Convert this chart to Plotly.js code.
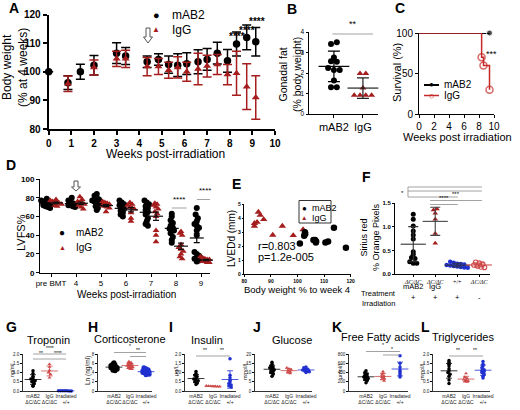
<!DOCTYPE html>
<html>
<head>
<meta charset="utf-8">
<script src="https://cdn.plot.ly/plotly-3.0.1.min.js"></script>
<style>
  body { margin: 0; background: #fff; }
  #fig { width: 520px; height: 410px; }
</style>
</head>
<body>
<div id="fig"></div>
<script>
// A - body weight (% of week 4), mean +/- SD
const weeksA   = [0, 0.85, 1.4, 2, 3, 3.4, 4.35, 4.85, 5.3, 5.7, 6.1, 6.6, 7.0, 7.45, 7.9, 8.3, 8.75, 9.15];
const bwMab    = [100, 96.2, 100, 102.3, 106.5, 105.5, 103.5, 104.3, 102.5, 102.3, 102.8, 103.5, 104.3, 106.5, 103.8, 109.7, 112, 110.5];
const bwMabErr = [0, 2.4, 2.6, 3.4, 3.6, 3, 2, 2, 3, 4, 3.8, 4.2, 3.8, 3.8, 4, 4.2, 4.3, 5];
const bwIgg    = [null, 95.8, null, 101.5, 104.5, 104.5, 101.8, 101.8, 100.5, 101.5, 100, 101, 102, 102.5, 99, 99.5, 94.8, 91];
const bwIggErr = [0, 2.7, 0, 2.6, 2.7, 3, 3.2, 2.8, 2.8, 3.7, 3.3, 5.5, 3.8, 3.5, 3.5, 7.7, 8, 7.6];

// B - gonadal fat
const fatMab = [3.41, 3.5, 2.76, 2.57, 2.55, 2.24, 2.15, 2.15, 1.63, 1.30, 1.30];
const fatIgg = [1.97, 1.97, 1.27, 0.91, 0.91, 0.91, 0.91];

// C - survival
const survWeeks = [0, 8.35, 8.6, 9.4];
const survMab = [100, 100, 100, 100];
const survIgg = [100, 70, 60, 30];

// D - LVFS% per time point
const weeksD = ['pre BMT', '4', '5', '6', '7', '8', '9'];
const lvfsMab = [
  [79, 77, 76, 75, 74, 73, 73, 72, 71, 70, 69],
  [80, 77, 75, 74, 73, 72, 72, 71, 70],
  [84, 82, 80, 78, 77, 76, 75, 74, 73, 71, 69, 67],
  [77, 75, 73, 72, 70, 68, 66, 64, 62, 60],
  [77, 75, 73, 71, 69, 67, 65, 62, 58, 55, 52, 50],
  [63, 60, 56, 53, 50, 48, 47, 46, 45, 42, 38, 35, 32],
  [69, 62, 58, 55, 52, 50, 48, 45, 40, 22, 20, 18, 15, 14, 13, 12]
];
const lvfsIgg = [
  [78, 77, 76, 75, 75, 74, 73, 72, 71],
  [81, 78, 76, 75, 74, 73, 72, 70, 68],
  [76, 75, 74, 73, 72, 71, 70, 69, 65],
  [75, 73, 72, 70, 69, 68, 64, 58, 55],
  [74, 73, 72, 70, 68, 65, 63, 60, 45, 40, 33],
  [44, 42, 40, 30, 27, 25, 23, 20, 17, 15],
  [17, 16, 15, 14, 14, 13, 12, 12, 11, 11]
];

// E - LVEDd vs body weight
const eMabX = [100.9, 102.5, 102.8, 102.9, 106.0, 106.6, 107.0, 106.9, 110.5, 111.5, 113.7, 118.2];
const eMabY = [2.2, 2.75, 3.0, 2.88, 2.45, 2.45, 2.35, 2.28, 2.28, 2.35, 3.32, 1.9];
const eIggX = [83.8, 83.8, 84.8, 85.3, 86.0, 87.3, 90.7, 94.3, 98.4, 102.1];
const eIggY = [3.64, 3.45, 3.72, 4.45, 4.22, 3.92, 2.8, 3.45, 2.78, 3.2];

// F - Sirius red
const fibTicks = ['<i>ΔC/ΔC</i>', '<i>ΔC/ΔC</i>', '+/+', '<i>ΔC/ΔC</i>'];
const fibTreatment = ['mAB2', 'IgG', '', ''];
const fibIrradiation = ['+', '+', '+', '-'];
const fibMab = [1.27, 1.16, 1.02, 0.91, 0.83, 0.74, 0.47, 0.42, 0.35, 0.33, 0.26, 0.23, 0.23];
const fibIgg = [1.36, 1.38, 1.29, 1.16, 0.86, 0.65];
const fibWt = [0.26, 0.24, 0.22, 0.21, 0.2, 0.19, 0.18, 0.17, 0.16, 0.15, 0.14, 0.13];
const fibNoIrr = [0.25, 0.23, 0.21, 0.19, 0.17, 0.15, 0.14];

// G-L - serum markers
const groupTicks = ['mAB2<br>ΔC/ΔC', 'IgG<br>ΔC/ΔC', 'Irradiated<br>+/+'];
const tropMab = [1.1, 0.95, 0.8, 0.72, 0.65, 0.6, 0.55, 0.5, 0.42, 0.3, 0.25];
const tropIgg = [1.45, 1.3, 1.12, 1.0, 0.9, 0.72];
const tropIrr = [0.02, 0.02, 0.01, 0.01, 0.01, 0, 0, 0];
const cortMab = [6.1, 5.9, 5.7, 5.5, 5.3, 5.2, 5.1, 5.0, 4.9, 4.8, 4.7, 4.5, 4.4];
const cortIgg = [6.2, 6.0, 5.8, 5.6, 5.5, 5.4, 5.2, 5.0, 4.8];
const cortIrr = [5.0, 4.8, 4.6, 4.4, 4.3, 4.2, 4.1, 4.0, 3.9, 3.8, 3.6, 3.5];
const insMab = [1.05, 0.95, 0.85, 0.78, 0.7, 0.65, 0.6, 0.55, 0.5, 0.42, 0.35];
const insIgg = [0.28, 0.27, 0.26, 0.25, 0.25, 0.24, 0.23];
const insIrr = [1.75, 0.85, 0.72, 0.58, 0.48, 0.4, 0.32, 0.28, 0.22];
const glucMab = [15.5, 14.5, 13.5, 13, 12.5, 12, 11.5, 11, 10.5, 10, 9, 8];
const glucIgg = [12.5, 12, 11.5, 11, 10.5, 10, 9.5];
const glucIrr = [13, 12.5, 12, 11.5, 11.3, 11, 10.7, 10.4, 10];
const ffaMab = [440, 400, 370, 340, 320, 300, 290, 270, 250, 220, 180];
const ffaIgg = [420, 380, 350, 320, 300, 280, 250, 220];
const ffaIrr = [760, 600, 520, 460, 420, 390, 350, 300];
const trigMab = [1.65, 1.55, 1.45, 1.35, 1.2, 1.1, 1.0, 0.9, 0.8, 0.6, 0.4];
const trigIgg = [0.95, 0.75, 0.68, 0.62, 0.58, 0.55, 0.52, 0.5];
const trigIrr = [1.6, 1.45, 1.35, 1.25, 1.15, 1.1, 1.05, 1.0, 0.9, 0.8, 0.7];

// ---------------------------------------------------------------
const W = 520, H = 410;
const FONT = '"Liberation Sans", Arial, sans-serif';
const RED = '#a51d1d', BLUE = '#2130d0', LRED = '#cf4a4a';
const X = v => v / W, Y = v => 1 - v / H;
const dom = (a, b) => [X(a), X(b)];
const domY = (top, bot) => [Y(bot), Y(top)];
const ref = n => n === 1 ? ['x', 'y'] : ['x' + n, 'y' + n];

const mean = a => a.reduce((s, v) => s + v, 0) / a.length;
const sd = a => { const m = mean(a); return Math.sqrt(a.reduce((s, v) => s + (v - m) ** 2, 0) / (a.length - 1)); };

// spread points that share a value bin side by side
function swarm(vals, xc, bin, step) {
  const count = {}, seen = {};
  vals.forEach(v => { const k = Math.round(v / bin); count[k] = (count[k] || 0) + 1; });
  return vals.map(v => {
    const k = Math.round(v / bin);
    seen[k] = seen[k] === undefined ? 0 : seen[k] + 1;
    return xc + (seen[k] - (count[k] - 1) / 2) * step;
  });
}

const traces = [], shapes = [], annotations = [];

function note(text, x, y, size, extra) {
  annotations.push(Object.assign({text, x: X(x), y: Y(y), xref: 'paper', yref: 'paper', showarrow: false,
    xanchor: 'center', yanchor: 'middle', font: {size, family: FONT, color: '#000'}}, extra));
}

function sig(n, x0, x1, yLine, label, size) {
  const xa = ref(n)[0];
  shapes.push({type: 'line', xref: xa, yref: 'paper', x0, x1, y0: Y(yLine), y1: Y(yLine), line: {color: '#8a8a8a', width: 0.8}});
  if (label) annotations.push({text: label, xref: xa, yref: 'paper', x: (x0 + x1) / 2, y: Y(yLine - size * 0.3), yanchor: 'bottom',
    showarrow: false, font: {size, family: FONT, color: '#000'}});
}

function dots(n, vals, xc, o) {
  const [xa, ya] = ref(n);
  traces.push({type: 'scatter', mode: 'markers', xaxis: xa, yaxis: ya, cliponaxis: false, hoverinfo: 'skip',
    x: swarm(vals, xc, o.bin, o.step), y: vals,
    marker: {symbol: o.sym, size: o.size, color: o.color, line: {color: o.color, width: o.sym.indexOf('open') >= 0 ? 1.1 : 0}}});
  const err = o.sem ? sd(vals) / Math.sqrt(vals.length) : sd(vals);
  traces.push({type: 'scatter', mode: 'markers', xaxis: xa, yaxis: ya, cliponaxis: false, hoverinfo: 'skip',
    x: [xc], y: [mean(vals)],
    marker: {symbol: 'line-ew', size: o.barW, color: o.barColor, line: {color: o.barColor, width: o.barLw}},
    error_y: {type: 'data', array: [err], color: o.barColor, thickness: o.barLw, width: o.cap}});
}

function arrow(cx, top, bot) {
  const sw = 2, hw = 4.5, neck = bot - (bot - top) * 0.4;
  const P = (x, y) => X(x).toFixed(4) + ',' + Y(y).toFixed(4);
  shapes.push({type: 'path', xref: 'paper', yref: 'paper', fillcolor: '#fff', line: {color: '#555', width: 1},
    path: `M${P(cx - sw, top)} L${P(cx + sw, top)} L${P(cx + sw, neck)} L${P(cx + hw, neck)} L${P(cx, bot)} L${P(cx - hw, neck)} L${P(cx - sw, neck)} Z`});
}

const layout = {
  width: W, height: H, margin: {l: 0, r: 0, t: 0, b: 0, pad: 0, autoexpand: false}, showlegend: false,
  paper_bgcolor: '#fff', plot_bgcolor: 'rgba(0,0,0,0)', font: {family: FONT, color: '#000'},
  shapes, annotations
};

function base(extra) {
  return Object.assign({showgrid: false, zeroline: false, showline: true, linecolor: '#000', linewidth: 1,
    ticks: 'outside', ticklen: 3, tickwidth: 1, tickcolor: '#000', fixedrange: true, automargin: false, tickangle: 0,
    tickfont: {size: 7, family: FONT, color: '#000'}}, extra);
}
function panel(n, xa, ya) {
  const k = n === 1 ? '' : n;
  layout['xaxis' + k] = base(Object.assign({anchor: 'y' + k}, xa));
  layout['yaxis' + k] = base(Object.assign({anchor: 'x' + k}, ya));
}

// ---------------- A
panel(1,
  {domain: dom(48.7, 275), range: [0, 10], tickvals: [0, 1, 2, 3, 4, 5, 6, 7, 8, 9, 10], linewidth: 2, tickwidth: 2, ticklen: 4,
   tickfont: {size: 10, weight: 'bold'}},
  {domain: domY(14.5, 129), range: [80, 120], tickvals: [80, 90, 100, 110, 120], linewidth: 2, tickwidth: 2, ticklen: 4,
   tickfont: {size: 10, weight: 'bold'}});
traces.push({type: 'scatter', mode: 'markers', x: weeksA, y: bwMab, cliponaxis: false, hoverinfo: 'skip',
  marker: {symbol: 'circle', size: 7.5, color: '#000'},
  error_y: {type: 'data', array: bwMabErr, color: '#000', thickness: 1.5, width: 4.5}});
traces.push({type: 'scatter', mode: 'markers', x: weeksA, y: bwIgg, cliponaxis: false, hoverinfo: 'skip',
  marker: {symbol: 'triangle-up', size: 7, color: RED},
  error_y: {type: 'data', array: bwIggErr, color: RED, thickness: 1.5, width: 4.5}});
[[8.3, 29], [8.75, 23], [9.2, 14]].forEach(([x, y]) =>
  annotations.push({text: '****', xref: 'x', yref: 'paper', x, y: Y(y), showarrow: false, font: {size: 10, weight: 'bold', family: FONT}}));
arrow(148, 28, 43);
note('●', 156, 15, 11);
note('mAB2', 170, 15, 12, {xanchor: 'left'});
note('▲', 156, 30, 8, {font: {size: 8, color: RED, family: FONT}});
note('IgG', 170, 30, 12, {xanchor: 'left'});
note('Body weight<br>(% at 4 weeks)', 15, 68, 12, {textangle: -90});
note('Weeks post-irradiation', 165, 154, 12);

// ---------------- B
panel(2,
  {domain: dom(309, 378), range: [-0.86, 1.52], tickvals: [0, 1], ticktext: ['mAB2', 'IgG'], tickfont: {size: 11}},
  {domain: domY(32, 114), range: [0, 4], tickvals: [0, 1, 2, 3, 4], tickfont: {size: 6.5}, ticklen: 2.5});
dots(2, fatMab, 0, {bin: 0.25, step: 0.2, sym: 'circle', size: 6, color: '#000', barW: 22, barColor: '#000', barLw: 1.2, cap: 6});
dots(2, fatIgg, 1, {bin: 0.25, step: 0.2, sym: 'triangle-up', size: 6, color: RED, barW: 22, barColor: '#222', barLw: 1.2, cap: 6});
sig(2, -0.05, 1.35, 34, '**', 9);
note('Gonadal fat<br>(% body weight)', 290, 75, 10.5, {textangle: -90});

// ---------------- C
panel(3,
  {domain: dom(419, 494), range: [0, 10], tickvals: [0, 2, 4, 6, 8, 10], tickfont: {size: 10}},
  {domain: domY(33, 114), range: [0, 100], tickvals: [0, 50, 100], tickfont: {size: 10}});
traces.push({type: 'scatter', mode: 'lines+markers', xaxis: 'x3', yaxis: 'y3', x: survWeeks, y: survMab, cliponaxis: false,
  hoverinfo: 'skip', line: {color: '#000', width: 2, shape: 'hv'}, marker: {color: '#000', size: survWeeks.map((_, i) => i === survWeeks.length - 1 ? 6 : 0)}});
traces.push({type: 'scatter', mode: 'lines+markers', xaxis: 'x3', yaxis: 'y3', x: survWeeks, y: survIgg, cliponaxis: false,
  hoverinfo: 'skip', line: {color: '#c62828', width: 1.5, shape: 'hv'},
  marker: {symbol: 'circle-open', color: '#c62828', line: {width: 1.5}, size: survWeeks.map((_, i) => i === 0 ? 0 : 7)}});
annotations.push({text: '***', xref: 'x3', yref: 'paper', x: 9.7, y: Y(47), showarrow: false, font: {size: 9, family: FONT}});
shapes.push({type: 'line', xref: 'paper', yref: 'paper', x0: X(424), x1: X(439), y0: Y(85), y1: Y(85), line: {color: '#000', width: 2}});
shapes.push({type: 'line', xref: 'paper', yref: 'paper', x0: X(424), x1: X(439), y0: Y(95.5), y1: Y(95.5), line: {color: '#c62828', width: 1.5}});
note('●', 431.5, 85, 8);
note('○', 431.5, 95.5, 9, {font: {size: 9, color: '#c62828', family: FONT}});
note('mAB2', 442, 85, 10, {xanchor: 'left'});
note('IgG', 442, 95.5, 10, {xanchor: 'left'});
note('Survival (%)', 397, 73, 11, {textangle: -90});
note('Weeks post irradiation', 457, 137, 11);

// ---------------- D
panel(4,
  {domain: dom(40, 210), range: [-0.44, 6.36], tickvals: weeksD.map((_, i) => i), ticktext: weeksD, tickfont: {size: 8}},
  {domain: domY(179, 272.7), range: [0, 100], tickvals: [0, 20, 40, 60, 80, 100], tickfont: {size: 8, weight: 'bold'}});
weeksD.forEach((w, i) => {
  dots(4, lvfsMab[i], i - 0.17, {bin: 5, step: 0.09, sym: 'circle', size: 6, color: '#000', sem: true, barW: 10, barColor: '#000', barLw: 1.2, cap: 3});
  dots(4, lvfsIgg[i], i + 0.2, {bin: 5, step: 0.09, sym: 'triangle-up', size: 6, color: RED, sem: true, barW: 10, barColor: '#111', barLw: 1.2, cap: 3});
});
sig(4, 4.83, 5.43, 208, '****', 8);
sig(4, 5.83, 6.49, 199.5, '****', 8);
arrow(76, 181, 191);
note('●', 62, 233, 10);
note('mAB2', 74, 233, 10, {xanchor: 'left'});
note('▲', 62, 247, 7, {font: {size: 7, color: RED, family: FONT}});
note('IgG', 74, 247, 10, {xanchor: 'left'});
note('LVFS%', 21, 233, 11, {textangle: -90});
note('Weeks post-irradiation', 126, 294, 10);

// ---------------- E
panel(5,
  {domain: dom(244.3, 350.7), range: [80, 120], tickvals: [80, 90, 100, 110, 120], tickfont: {size: 5, weight: 'bold'}, ticklen: 1.5},
  {domain: domY(204.3, 274.3), range: [0, 5], tickvals: [0, 1, 2, 3, 4, 5], tickfont: {size: 5, weight: 'bold'}, ticklen: 1.5});
traces.push({type: 'scatter', mode: 'markers', xaxis: 'x5', yaxis: 'y5', x: eIggX, y: eIggY, cliponaxis: false, hoverinfo: 'skip',
  marker: {symbol: 'triangle-up', size: 6.5, color: RED}});
traces.push({type: 'scatter', mode: 'markers', xaxis: 'x5', yaxis: 'y5', x: eMabX, y: eMabY, cliponaxis: false, hoverinfo: 'skip',
  marker: {symbol: 'circle', size: 6.5, color: '#000'}});
shapes.push({type: 'rect', xref: 'paper', yref: 'paper', x0: X(299), x1: X(331), y0: Y(223), y1: Y(200.5), line: {color: '#000', width: 0.8}});
note('●', 304, 208, 8);
note('mAB2', 310, 208, 9, {xanchor: 'left'});
note('▲', 304, 217.5, 6.5, {font: {size: 6.5, color: RED, family: FONT}});
note('IgG', 310, 217.5, 9, {xanchor: 'left'});
note('r=0.803', 256, 246, 11, {xanchor: 'left'});
note('p=1.2e-005', 256, 256.5, 11, {xanchor: 'left'});
note('LVEDd (mm)', 232, 239, 10, {textangle: -90});
note('Body weight % to week 4', 297, 289, 9.5);

// ---------------- F
panel(6,
  {domain: dom(395, 490), range: [-0.83, 3.49], tickvals: [0, 1, 2, 3], ticktext: fibTicks, ticklen: 2,
   tickfont: {size: 6, family: '"Liberation Serif", serif'}},
  {domain: domY(203.3, 274), range: [0, 1.5], tickvals: [0, 0.5, 1, 1.5], ticktext: ['0.0', '0.5', '1.0', '1.5'],
   tickfont: {size: 6, weight: 'bold'}, ticklen: 2});
dots(6, fibMab, 0, {bin: 0.08, step: 0.16, sym: 'circle', size: 5, color: '#000', barW: 18, barColor: '#333', barLw: 1.1, cap: 5});
dots(6, fibIgg, 1, {bin: 0.08, step: 0.16, sym: 'triangle-up', size: 5, color: RED, barW: 18, barColor: '#444', barLw: 1.1, cap: 5});
dots(6, fibWt, 2, {bin: 0.08, step: 0.16, sym: 'circle', size: 4.5, color: BLUE, barW: 18, barColor: '#334', barLw: 1.1, cap: 5});
dots(6, fibNoIrr, 3, {bin: 0.08, step: 0.16, sym: 'circle-open', size: 4.5, color: LRED, barW: 18, barColor: LRED, barLw: 1.1, cap: 5});
sig(6, -0.24, 3.12, 187, '', 6);
sig(6, -0.24, 3.12, 191, '', 6);
sig(6, -0.24, 2.03, 197, '', 6);
sig(6, 0.76, 3.12, 200.5, '***', 6);
sig(6, 0.76, 2.03, 204.5, '****', 6);
shapes.push({type: 'line', xref: 'x6', yref: 'paper', x0: -0.24, x1: -0.24, y0: Y(187), y1: Y(197), line: {color: '#8a8a8a', width: 0.8}});
annotations.push({text: '*', xref: 'x6', yref: 'paper', x: -0.47, y: Y(193), showarrow: false, font: {size: 6, family: FONT}});
note('Treatment', 378, 293, 7.5);
note('Irradiation', 378, 303.5, 7.5);
fibTreatment.forEach((t, i) => { if (t) annotations.push({text: t, xref: 'x6', yref: 'paper', x: i, y: Y(293), showarrow: false, font: {size: 7.5, family: FONT}}); });
fibIrradiation.forEach((t, i) => annotations.push({text: t, xref: 'x6', yref: 'paper', x: i, y: Y(303.5), showarrow: false, font: {size: 7.5, family: FONT}}));
note('Sirius red<br>% Orange Pixels', 370, 237, 9, {textangle: -90});

// ---------------- G-L
const lower = [
  {n: 7, name: 'Troponin', unit: 'ng/ml', data: [tropMab, tropIgg, tropIrr], yr: [0, 2], yt: [0, 0.5, 1, 1.5, 2], ytt: ['0.0', '0.5', '1.0', '1.5', '2.0'],
   left: 23, c0: 33, sp: 16.5, right: 72, tx: 48, ty: 340, ux: 12, size: 3.5, sig: [[0, 2, 354, '****'], [0, 1, 359, '**'], [1, 2, 359, '****']]},
  {n: 8, name: 'Corticosterone', unit: 'Ln (ng/ml)', data: [cortMab, cortIgg, cortIrr], yr: [0, 8], yt: [0, 2, 4, 6, 8], ytt: ['0', '2', '4', '6', '8'],
   left: 98, c0: 114, sp: 16, right: 152, tx: 130, ty: 338.5, ux: 88, size: 5, sig: [[0, 2, 352.5, '*'], [1, 2, 356.5, '**']]},
  {n: 9, name: 'Insulin', unit: 'μg/L', data: [insMab, insIgg, insIrr], yr: [0, 2], yt: [0, 0.5, 1, 1.5, 2], ytt: ['0.0', '0.5', '1.0', '1.5', '2.0'],
   left: 185, c0: 196, sp: 17, right: 236, tx: 207, ty: 340, ux: 176, size: 3.5, sig: [[0, 1, 356, '**'], [1, 2, 356, '**']]},
  {n: 10, name: 'Glucose', unit: 'mmol/L', data: [glucMab, glucIgg, glucIrr], yr: [0, 20], yt: [0, 5, 10, 15, 20], ytt: ['0', '5', '10', '15', '20'],
   left: 255, c0: 272, sp: 17, right: 312, tx: 292, ty: 340, ux: 245, size: 3.5, sig: []},
  {n: 11, name: 'Free Fatty acids', unit: 'μmol/L', data: [ffaMab, ffaIgg, ffaIrr], yr: [0, 800], yt: [0, 200, 400, 600, 800], ytt: ['0', '200', '400', '600', '800'],
   left: 349, c0: 366, sp: 17, right: 408, tx: 380, ty: 337, ux: 340, size: 3.5, sig: [[0, 2, 351.5, '*'], [1, 2, 355, '*']]},
  {n: 12, name: 'Triglycerides', unit: 'mmol/L', data: [trigMab, trigIgg, trigIrr], yr: [0, 2], yt: [0, 0.5, 1, 1.5, 2], ytt: ['0.0', '0.5', '1.0', '1.5', '2.0'],
   left: 433, c0: 449, sp: 17, right: 490, tx: 463, ty: 337, ux: 422, size: 3.5, sig: [[0, 1, 356, '**'], [1, 2, 356, '**']]}
];
const groupSym = ['circle', 'triangle-up', 'circle'];
const groupCol = ['#000', LRED, BLUE];
lower.forEach(p => {
  panel(p.n,
    {domain: dom(p.left, p.right), range: [(p.left - p.c0) / p.sp, (p.right - p.c0) / p.sp], tickvals: [0, 1, 2], ticktext: groupTicks,
     ticks: '', ticklen: 0, tickfont: {size: 5, color: '#222'}, linewidth: 0.8},
    {domain: domY(354, 391), range: p.yr, tickvals: p.yt, ticktext: p.ytt, tickfont: {size: 4.5, color: '#222'}, ticklen: 2, linewidth: 0.8});
  const span = p.yr[1] - p.yr[0];
  p.data.forEach((vals, j) => dots(p.n, vals, j, {bin: span * 0.06, step: 0.13, sym: groupSym[j], size: p.size, color: groupCol[j],
    barW: 12, barColor: groupCol[j], barLw: 0.8, cap: 3}));
  p.sig.forEach(s => sig(p.n, s[0], s[1], s[2], s[3], 5));
  note(p.name, p.tx, p.ty, 11);
  note(p.unit, p.ux, 371, p.n === 8 ? 6.5 : 5.5, {textangle: -90, font: {size: p.n === 8 ? 6.5 : 5.5, color: '#222', family: FONT}});
});

// panel letters
[['A', 14, 8], ['B', 292, 9], ['C', 400, 8], ['D', 11, 165], ['E', 236, 184], ['F', 366, 177],
 ['G', 11, 327], ['H', 93, 327], ['I', 171, 327], ['J', 257, 327], ['K', 337, 327], ['L', 425, 327]]
  .forEach(([t, x, y]) => note('<b>' + t + '</b>', x, y, 14));

Plotly.newPlot('fig', traces, layout, {displayModeBar: false, staticPlot: true});
</script>
</body>
</html>
